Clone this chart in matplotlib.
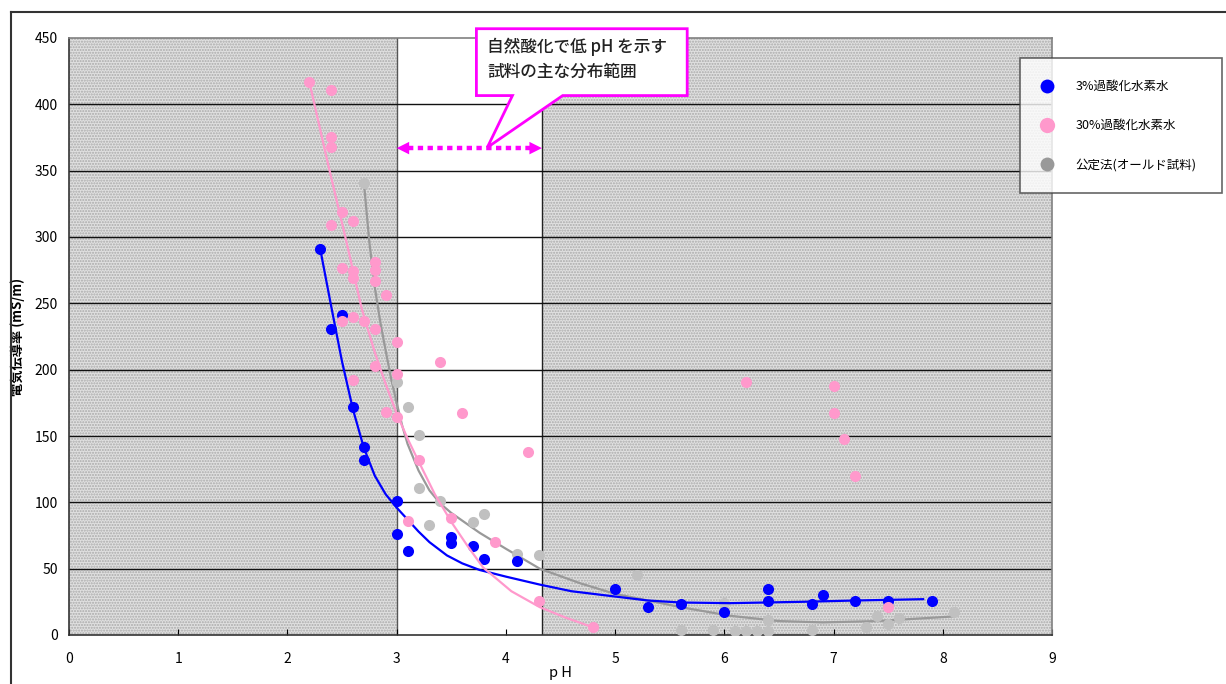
import matplotlib
matplotlib.use('Agg')
import matplotlib.pyplot as plt
from matplotlib.lines import Line2D
from matplotlib.patches import Polygon

plt.rcParams['font.family'] = ['Noto Sans CJK JP', 'DejaVu Sans']
plt.rcParams['hatch.linewidth'] = 1.0

# 3% hydrogen peroxide (blue)
ph3 = [2.3, 2.4, 2.5, 2.6, 2.7, 2.7, 3.0, 3.0, 3.1, 3.5, 3.5, 3.7, 3.8, 4.1,
       5.0, 5.3, 5.6, 6.0, 6.4, 6.4, 6.8, 6.9, 7.2, 7.5, 7.9]
ec3 = [291, 231, 241, 172, 142, 132, 101, 76, 63, 74, 69, 67, 57, 56,
       35, 21, 23, 17, 35, 26, 23, 30, 26, 26, 26]

# 30% hydrogen peroxide (pink)
ph30 = [2.2, 2.4, 2.4, 2.4, 2.4, 2.5, 2.6, 2.5, 2.6, 2.6, 2.8, 2.8, 2.8, 2.9,
        2.5, 2.6, 2.7, 2.8, 3.0, 2.8, 3.0, 2.6, 2.9, 3.0, 3.4, 3.6, 3.2, 3.1,
        3.5, 3.9, 4.2, 4.3, 4.8, 6.2, 7.0, 7.0, 7.1, 7.2, 7.5]
ec30 = [417, 411, 375, 368, 309, 319, 312, 277, 274, 269, 281, 275, 267, 256,
        237, 240, 237, 231, 221, 203, 197, 192, 168, 164, 206, 167, 132, 86,
        88, 70, 138, 26, 6, 191, 188, 167, 148, 120, 21]

# official method, old samples (gray)
phk = [2.7, 3.0, 3.1, 3.2, 3.2, 3.3, 3.4, 3.7, 3.8, 4.1, 4.3, 5.2, 5.6, 6.0,
       5.9, 6.1, 6.2, 6.3, 6.4, 6.4, 6.8, 7.3, 7.4, 7.5, 7.6, 8.1]
eck = [341, 191, 172, 151, 111, 83, 101, 85, 91, 61, 60, 45, 4, 24,
       4, 3, 3, 3, 3, 11, 4, 6, 14, 8, 13, 17]

# trend curves
fit3_x = [2.3, 2.4, 2.5, 2.6, 2.7, 2.8, 2.9, 3.0, 3.1, 3.2, 3.3, 3.46, 3.6,
          3.76, 4.0, 4.31, 4.6, 5.0, 5.3, 5.6, 6.05, 6.7, 7.2, 7.82]
fit3_y = [291, 248, 206, 170, 141, 120, 106, 96, 87, 78, 70, 60, 54,
          49, 44, 38, 33, 29, 26, 24.5, 24, 25, 26, 27]
fit30_x = [2.2, 2.38, 2.53, 2.68, 2.8, 2.9, 3.0, 3.1, 3.2, 3.35, 3.51, 3.65,
           3.79, 4.05, 4.31, 4.55, 4.79]
fit30_y = [417, 352, 300, 246, 213, 189, 167, 148, 131, 106, 84, 67,
           51, 33, 21, 13, 6]
fitk_x = [2.7, 2.75, 2.8, 2.85, 2.9, 2.95, 3.0, 3.05, 3.1, 3.2, 3.3, 3.4, 3.5,
          3.76, 4.0, 4.31, 4.68, 5.0, 5.6, 6.05, 6.5, 6.9, 7.4, 8.1]
fitk_y = [341, 296, 262, 236, 214, 193, 175, 158, 144, 124, 109, 99, 92,
          77, 65, 50, 39, 31, 21, 14.5, 10.5, 9.5, 10.5, 14]

labels = ['3%過酸化水素水', '30%過酸化水素水', '公定法(オールド試料)']
low_ph_range = (3.0, 4.33)

blue, pink, gray_pt, gray_ln = '#0000ff', '#ff99cc', '#c0c0c0', '#999999'
magenta = '#ff00ff'

fig = plt.figure(figsize=(12.26, 6.84), dpi=100)
ax = fig.add_axes([69 / 1226, 49 / 684, 983 / 1226, 597 / 684])
ax.set_xlim(0, 9)
ax.set_ylim(0, 450)

# shaded background outside the low-pH range
for x0, x1 in [(0, low_ph_range[0]), (low_ph_range[1], 9)]:
    ax.axvspan(x0, x1, facecolor='#e0e0e0', edgecolor='#aaaaaa',
               hatch='......', linewidth=0, zorder=0)
ax.axvline(low_ph_range[0], color='#555555', lw=1, zorder=1)
ax.axvline(low_ph_range[1], color='#222222', lw=1, zorder=1)
for yv in range(50, 450, 50):
    ax.axhline(yv, color='#111111', lw=1, zorder=1)

# series
ax.plot(fitk_x, fitk_y, color=gray_ln, lw=1.6, zorder=2)
ax.plot(phk, eck, 'o', color=gray_pt, ms=8, mec='none', zorder=3)
ax.plot(fit3_x, fit3_y, color=blue, lw=1.6, zorder=4)
ax.plot(ph3, ec3, 'o', color=blue, ms=8, mec='none', zorder=5)
ax.plot(fit30_x, fit30_y, color=pink, lw=1.6, zorder=6)
ax.plot(ph30, ec30, 'o', color=pink, ms=8, mec='none', zorder=7)

# dotted double arrow marking the low-pH range
ax.plot([low_ph_range[0] + 0.1, low_ph_range[1] - 0.1], [367, 367],
        color=magenta, lw=3.2, dashes=(1.2, 1.0), dash_capstyle='butt', zorder=8)
ax.annotate('', xy=(low_ph_range[0], 367), xytext=(low_ph_range[1], 367),
            arrowprops=dict(arrowstyle='<|-|>,head_length=0.9,head_width=0.45',
                            color=magenta, lw=0, shrinkA=0, shrinkB=0), zorder=8)

# callout box
callout = Polygon([(3.73, 457), (5.66, 457), (5.66, 406.6), (4.52, 406.6),
                   (3.83, 367.5), (4.06, 406.6), (3.73, 406.6)],
                  closed=True, facecolor='white', edgecolor=magenta, lw=2,
                  clip_on=False, zorder=9)
ax.add_patch(callout)
ax.text(3.83, 434, '自然酸化で低 pH を示す\n試料の主な分布範囲', fontsize=12,
        ha='left', va='center', linespacing=1.55, color='#222222',
        fontweight='medium', zorder=10)

# axes styling
ax.set_xticks(range(0, 10))
ax.set_yticks(range(0, 451, 50))
ax.tick_params(axis='x', direction='in', length=4, pad=12, labelsize=10)
ax.tick_params(axis='y', length=0, pad=8, labelsize=10)
for side in ['left', 'bottom']:
    ax.spines[side].set_color('#333333')
    ax.spines[side].set_linewidth(1.2)
for side in ['top', 'right']:
    ax.spines[side].set_color('#808080')
    ax.spines[side].set_linewidth(1.2)
ax.set_ylabel('電気伝導率 (mS/m)', fontsize=9.5, fontweight='bold')
ax.yaxis.set_label_coords(-(69 - 25) / 983, 0.5)
ax.set_xlabel('p H', fontsize=10.5)
ax.xaxis.set_label_coords(0.5, -(666 - 635) / 597)

handles = [Line2D([], [], ls='none', marker='o', ms=10, color=blue, mec='none'),
           Line2D([], [], ls='none', marker='o', ms=11, color=pink, mec='none'),
           Line2D([], [], ls='none', marker='o', ms=10, color='#999999', mec='none')]
leg = ax.legend(handles, labels, loc='upper left',
                bbox_to_anchor=(1020 / 1226, 1 - 58 / 684, 202 / 1226, 0.0),
                bbox_transform=fig.transFigure, mode='expand', borderaxespad=0,
                fontsize=9, frameon=True, fancybox=False, edgecolor='#404040',
                borderpad=1.75, labelspacing=2.1, handlelength=0.8,
                handletextpad=1.9)
leg.get_frame().set_linewidth(1.2)

# outer chart frame
fig.add_artist(Line2D([11 / 1226, 1.0], [1 - 12 / 684, 1 - 12 / 684],
                      color='#333333', lw=1.5))
fig.add_artist(Line2D([11 / 1226, 11 / 1226], [0, 1 - 12 / 684],
                      color='#333333', lw=1.5))

fig.savefig('out.png', dpi=100)
